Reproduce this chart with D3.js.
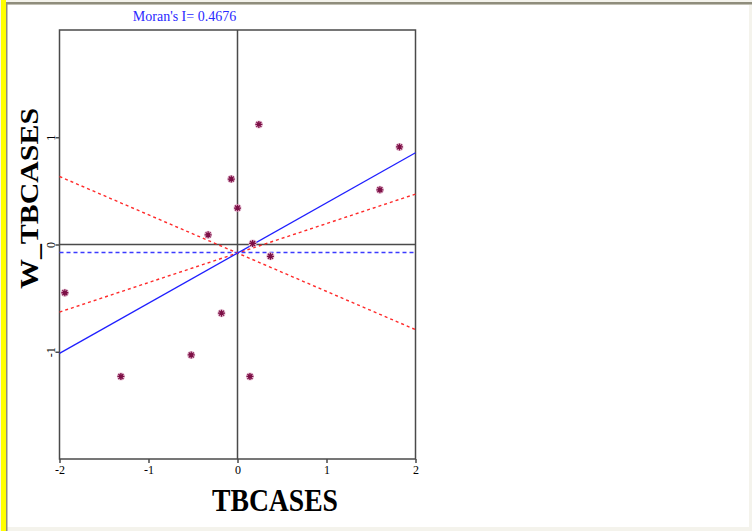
<!DOCTYPE html>
<html>
<head>
<meta charset="utf-8">
<script src="https://cdn.jsdelivr.net/npm/d3@7"></script>
<style>
  body { margin: 0; background: #ffffff; }
  svg { display: block; }
</style>
</head>
<body>
<svg id="chart"></svg>
<script>
// observed values: TBCASES (standardized) and its spatial lag W_TBCASES
const tbcases   = [-1.94, -1.31, -0.52, -0.33, -0.18, -0.07, 0.00, 0.24, 0.17, 0.37, 0.14, 1.60, 1.82];
const wTbcases  = [-0.45, -1.23, -1.03, 0.09, -0.64, 0.61, 0.34, 1.12, 0.01, -0.11, -1.23, 0.51, 0.91];
const xTicks = [-2, -1, 0, 1, 2];
const yTicks = [-1, 0, 1];
const moranI = 0.4676;
const intercept = -0.08;
const meanLag = -0.075;
// red dashed bound lines, all pivoting through the intercept
const boundSlopes = [0.275, -0.357];

class MoranPlot {
    constructor( config ) {
        this.config = {
            parent: config.parent,
            width: config.width || 752,
            height: config.height || 531
        };
        this.data = tbcases.map( ( x, i ) => ({ x: x, y: wTbcases[i] }) );
        this.init();
    }

    init() {
        let self = this;

        self.svg = d3.select( self.config.parent )
            .attr( 'width', self.config.width )
            .attr( 'height', self.config.height );

        // window frame
        self.svg.append( 'rect' )
            .attr( 'x', 0 ).attr( 'y', 0 )
            .attr( 'width', self.config.width ).attr( 'height', self.config.height )
            .attr( 'fill', '#f4f3ec' );
        self.svg.append( 'rect' )
            .attr( 'x', 7 ).attr( 'y', 5 )
            .attr( 'width', 742 ).attr( 'height', 522 )
            .attr( 'fill', '#ffffff' );
        self.svg.append( 'rect' )
            .attr( 'x', 6 ).attr( 'y', 2 )
            .attr( 'width', 746 ).attr( 'height', 2.5 )
            .attr( 'fill', '#8f8d7c' );
        self.svg.append( 'rect' )
            .attr( 'x', 6 ).attr( 'y', 2 )
            .attr( 'width', 1.5 ).attr( 'height', 529 )
            .attr( 'fill', '#8f8d7c' );
        self.svg.append( 'rect' )
            .attr( 'x', 1 ).attr( 'y', 0 )
            .attr( 'width', 5 ).attr( 'height', self.config.height )
            .attr( 'fill', '#ffff00' );

        self.xscale = d3.scaleLinear()
            .domain( [ -2, 2 ] )
            .range( [ 59.5, 415.5 ] );

        self.yscale = d3.scaleLinear()
            .domain( [ -2, 2 ] )
            .range( [ 459, 30 ] );

        self.chart = self.svg.append( 'g' );
    }

    render() {
        let self = this;
        const xs = self.xscale, ys = self.yscale;
        const axisColor = '#4a4a4a';

        // plot box
        self.chart.append( 'rect' )
            .attr( 'x', xs( -2 ) ).attr( 'y', ys( 2 ) )
            .attr( 'width', xs( 2 ) - xs( -2 ) )
            .attr( 'height', ys( -2 ) - ys( 2 ) )
            .attr( 'fill', 'none' )
            .attr( 'stroke', axisColor )
            .attr( 'stroke-width', 1.5 );

        // zero crosshair
        self.chart.append( 'line' )
            .attr( 'x1', xs( 0 ) ).attr( 'x2', xs( 0 ) )
            .attr( 'y1', ys( 2 ) ).attr( 'y2', ys( -2 ) )
            .attr( 'stroke', axisColor ).attr( 'stroke-width', 1.5 );
        self.chart.append( 'line' )
            .attr( 'x1', xs( -2 ) ).attr( 'x2', xs( 2 ) )
            .attr( 'y1', ys( 0 ) ).attr( 'y2', ys( 0 ) )
            .attr( 'stroke', axisColor ).attr( 'stroke-width', 1.5 );

        // axes
        const xaxis = d3.axisBottom( xs )
            .tickValues( xTicks )
            .tickSize( 4 )
            .tickSizeOuter( 0 )
            .tickFormat( d => String( d ) );
        const yaxis = d3.axisLeft( ys )
            .tickValues( yTicks )
            .tickSize( 4 )
            .tickSizeOuter( 0 )
            .tickFormat( d => String( d ) );

        const xg = self.chart.append( 'g' )
            .attr( 'transform', `translate(0, ${ys( -2 )})` )
            .call( xaxis );
        const yg = self.chart.append( 'g' )
            .attr( 'transform', `translate(${xs( -2 )}, 0)` )
            .call( yaxis );

        [ xg, yg ].forEach( g => {
            g.select( '.domain' ).remove();
            g.selectAll( '.tick line' ).attr( 'stroke', axisColor ).attr( 'stroke-width', 1.5 );
            g.selectAll( '.tick text' )
                .attr( 'fill', '#000' )
                .style( 'font-family', '"Liberation Serif", serif' )
                .style( 'font-size', '12px' );
        });
        xg.selectAll( '.tick text' ).attr( 'y', 6 );
        yg.selectAll( '.tick text' )
            .attr( 'x', 0 ).attr( 'dy', 0 )
            .attr( 'text-anchor', 'middle' )
            .attr( 'transform', 'translate(-5, 0) rotate(-90)' );

        // mean of lag (blue dashed)
        self.chart.append( 'line' )
            .attr( 'x1', xs( -2 ) ).attr( 'x2', xs( 2 ) )
            .attr( 'y1', ys( meanLag ) ).attr( 'y2', ys( meanLag ) )
            .attr( 'stroke', '#3b3bff' ).attr( 'stroke-width', 1.5 )
            .attr( 'stroke-dasharray', '4,3' );

        // bound lines (red dashed)
        const line = d3.line().x( d => xs( d[0] ) ).y( d => ys( d[1] ) );
        boundSlopes.forEach( s => {
            self.chart.append( 'path' )
                .attr( 'd', line( [ [ -2, intercept - 2 * s ], [ 2, intercept + 2 * s ] ] ) )
                .attr( 'fill', 'none' )
                .attr( 'stroke', '#ff2a2a' ).attr( 'stroke-width', 1.4 )
                .attr( 'stroke-dasharray', '3,3' );
        });

        // regression line, slope = Moran's I
        self.chart.append( 'path' )
            .attr( 'd', line( [ [ -2, intercept - 2 * moranI ], [ 2, intercept + 2 * moranI ] ] ) )
            .attr( 'fill', 'none' )
            .attr( 'stroke', '#1f1fff' ).attr( 'stroke-width', 1.3 );

        // points
        const star = 'M-3.5,0L3.5,0M0,-3.5L0,3.5M-2.5,-2.5L2.5,2.5M-2.5,2.5L2.5,-2.5';
        const pts = self.chart.selectAll( 'g.pt' )
            .data( self.data )
            .enter()
            .append( 'g' )
            .attr( 'class', 'pt' )
            .attr( 'transform', d => `translate(${xs( d.x )}, ${ys( d.y )})` );
        pts.append( 'circle' )
            .attr( 'r', 4 )
            .attr( 'fill', '#e6bfd3' );
        pts.append( 'path' )
            .attr( 'd', star )
            .attr( 'stroke', '#7d0f46' )
            .attr( 'stroke-width', 1.3 );
        pts.append( 'circle' )
            .attr( 'r', 1.8 )
            .attr( 'fill', '#7d0f46' );

        // title
        self.svg.append( 'text' )
            .attr( 'x', 184.5 )
            .attr( 'y', 21 )
            .attr( 'text-anchor', 'middle' )
            .attr( 'fill', '#2a2aff' )
            .style( 'font-family', '"Liberation Serif", serif' )
            .style( 'font-size', '14px' )
            .text( `Moran's I= ${moranI}` );

        // axis labels
        self.svg.append( 'text' )
            .attr( 'x', 212 )
            .attr( 'y', 511 )
            .attr( 'textLength', 126 )
            .attr( 'lengthAdjust', 'spacingAndGlyphs' )
            .style( 'font-family', '"Liberation Serif", serif' )
            .style( 'font-weight', 'bold' )
            .style( 'font-size', '32px' )
            .text( 'TBCASES' );

        self.svg.append( 'text' )
            .attr( 'transform', 'translate(38, 289) rotate(-90)' )
            .attr( 'x', 0 )
            .attr( 'y', 0 )
            .attr( 'textLength', 181 )
            .attr( 'lengthAdjust', 'spacingAndGlyphs' )
            .style( 'font-family', '"Liberation Serif", serif' )
            .style( 'font-weight', 'bold' )
            .style( 'font-size', '26px' )
            .text( 'W_TBCASES' );
    }
}

const plot = new MoranPlot( { parent: '#chart', width: 752, height: 531 } );
plot.render();
</script>
</body>
</html>
